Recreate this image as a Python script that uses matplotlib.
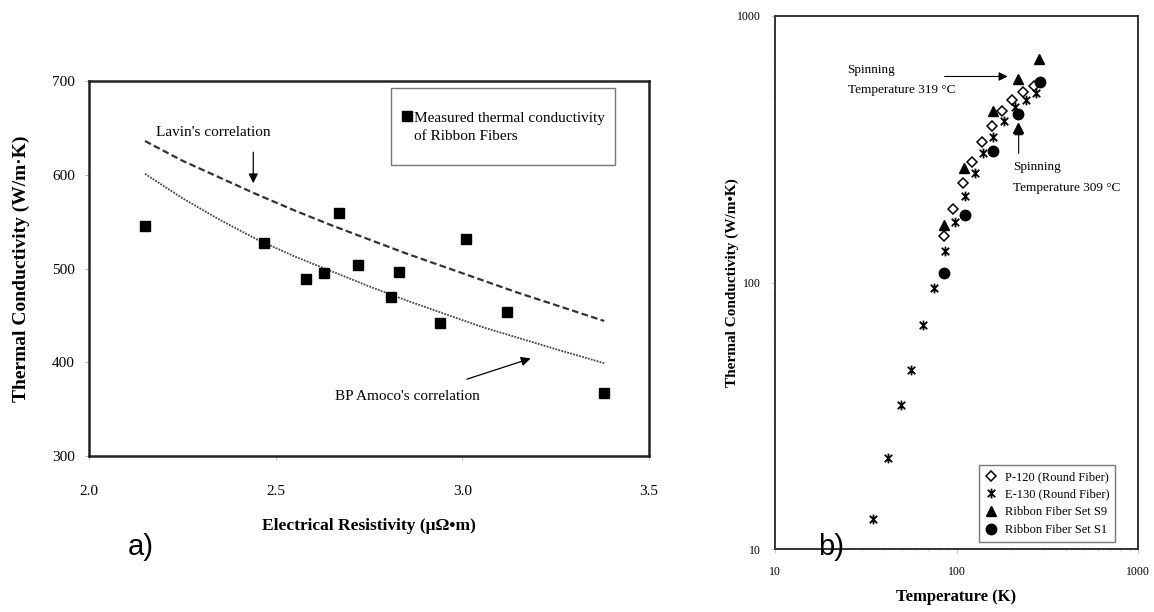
import matplotlib.pyplot as plt
from matplotlib.path import Path
from matplotlib.lines import Line2D
from matplotlib.patches import Rectangle

plt.rcParams['font.family'] = ['Liberation Serif', 'DejaVu Serif']

# ---- panel a) data ----
rho = [2.15, 2.47, 2.58, 2.63, 2.67, 2.72, 2.81, 2.83, 2.94, 3.01, 3.12, 3.38]
k_meas = [545, 527, 489, 495, 559, 504, 470, 496, 442, 532, 454, 367]

curve_rho = [2.15, 2.25, 2.35, 2.45, 2.55, 2.65, 2.75, 2.85, 2.95, 3.05, 3.15, 3.25, 3.38]
k_lavin = [636, 615, 597, 579, 562, 546, 531, 516, 502, 488, 474, 461, 444]
k_bp = [601, 575, 552, 531, 513, 497, 481, 466, 452, 438, 426, 414, 399]

# ---- panel b) data ----
T_p120 = [85.5, 95.9, 109, 122, 139, 156, 179, 203, 233, 268]
k_p120 = [149, 188, 236, 284, 336, 387, 440, 482, 517, 545]

T_e130 = [34.5, 42.1, 49.2, 55.9, 65.0, 75.0, 86.9, 97.9, 111, 126, 140, 159, 182, 210, 241, 274]
k_e130 = [13.0, 21.9, 34.7, 47.0, 69.3, 95.2, 131, 168, 211, 258, 305, 353, 402, 455, 482, 512]

T_s9 = [85.1, 110, 159, 218, 218, 285]
k_s9 = [164, 268, 440, 582, 380, 690]

T_s1 = [85.5, 111, 159, 218, 288]
k_s1 = [109, 179, 311, 430, 563]

# asterisk-like marker: X with a vertical bar
star = Path([(-1, -1), (1, 1), (-1, 1), (1, -1), (0, -1.3), (0, 1.3)],
            [Path.MOVETO, Path.LINETO, Path.MOVETO, Path.LINETO, Path.MOVETO, Path.LINETO])

W, H = 1154, 612
fig = plt.figure(figsize=(W / 100, H / 100), dpi=100)

def box(l, t, r, b):
    return [l / W, 1 - b / H, (r - l) / W, (b - t) / H]

# ================= a) =================
ax = fig.add_axes(box(89, 81, 649, 456))
ax.plot(curve_rho, k_lavin, color='#333333', lw=1.6, ls=(0, (3, 1.5)))
ax.plot(curve_rho, k_bp, color='#444444', lw=1.3, ls=(0, (1, 0.7)))
ax.plot(rho, k_meas, 's', color='black', ms=6.5, ls='none')

ax.set_xlim(2.0, 3.5)
ax.set_ylim(300, 700)
ax.set_xticks([2.0, 2.5, 3.0, 3.5])
ax.set_xticklabels(['2.0', '2.5', '3.0', '3.5'])
ax.set_yticks([300, 400, 500, 600, 700])
ax.tick_params(axis='both', labelsize=11, length=3, width=0.6, color='#aaaaaa')
ax.tick_params(axis='x', pad=18)
ax.tick_params(axis='y', pad=7)
for s in ax.spines.values():
    s.set_linewidth(1.8)
    s.set_color('#222222')

ax.set_ylabel('Thermal Conductivity (W/m·K)', fontsize=14, fontweight='bold', labelpad=16)
ax.set_xlabel('Electrical Resistivity (μΩ•m)', fontsize=12.5, fontweight='bold', labelpad=14)

ax.text(2.18, 645, "Lavin's correlation", fontsize=11, va='center', ha='left')
ax.annotate('', xy=(2.44, 588), xytext=(2.44, 627),
            arrowprops=dict(arrowstyle='-|>', color='black', lw=0.9, mutation_scale=14))
ax.text(2.66, 364, "BP Amoco's correlation", fontsize=11, va='center', ha='left')
ax.annotate('', xy=(3.19, 405), xytext=(3.005, 381),
            arrowprops=dict(arrowstyle='-|>', color='black', lw=0.9, mutation_scale=14))

# legend: separate frame + frameless legend inside it
ax.add_patch(Rectangle((0.539, 0.776), 0.400, 0.205, transform=ax.transAxes,
                       facecolor='white', edgecolor='#777777', lw=1.0, zorder=4))
h1 = Line2D([], [], marker='s', color='black', ms=6.5, ls='none')
h2 = Line2D([], [], ls='none')
leg = ax.legend([h1, h2], ['Measured thermal conductivity', 'of Ribbon Fibers'],
                loc='center', bbox_to_anchor=(0.740, 0.877), fontsize=11,
                frameon=False, handlelength=0.6, handletextpad=0.15,
                labelspacing=0.3, borderpad=0, borderaxespad=0)
leg.set_zorder(5)

fig.text(128 / W, 1 - 555 / H, 'a)', fontsize=21, family='Liberation Sans', va='baseline')

# ================= b) =================
bx = fig.add_axes(box(775, 16, 1138, 549))
bx.plot(T_p120, k_p120, 'D', mfc='white', mec='black', mew=1.1, ms=5, ls='none',
        label='P-120 (Round Fiber)')
bx.plot(T_e130, k_e130, marker=star, color='black', mew=1.3, ms=7, ls='none',
        label='E-130 (Round Fiber)')
bx.plot(T_s9, k_s9, '^', color='black', ms=7.5, ls='none', label='Ribbon Fiber Set S9')
bx.plot(T_s1, k_s1, 'o', color='black', ms=7.5, ls='none', label='Ribbon Fiber Set S1')

bx.set_xscale('log')
bx.set_yscale('log')
bx.set_xlim(10, 1000)
bx.set_ylim(10, 1000)
bx.set_xticks([10, 100, 1000])
bx.set_xticklabels(['10', '100', '1000'])
bx.set_yticks([10, 100, 1000])
bx.set_yticklabels(['10', '100', '1000'])
bx.tick_params(axis='both', which='major', labelsize=8.5, length=3, width=0.6, color='#bbbbbb')
bx.tick_params(axis='both', which='minor', length=2, width=0.5, color='#dddddd')
bx.tick_params(axis='x', which='both', pad=9)
bx.tick_params(axis='y', which='both', pad=7)
for s in bx.spines.values():
    s.set_linewidth(1.4)
    s.set_color('#333333')

bx.set_ylabel('Thermal Conductivity (W/m•K)', fontsize=11, fontweight='bold', labelpad=-1)
bx.set_xlabel('Temperature (K)', fontsize=12, fontweight='bold', labelpad=8)

bx.text(25.1, 627, 'Spinning', fontsize=9.5, va='center', ha='left')
bx.text(25.1, 526, 'Temperature 319 °C', fontsize=9.5, va='center', ha='left')
bx.annotate('', xy=(198, 593), xytext=(83, 593),
            arrowprops=dict(arrowstyle='-|>', color='black', lw=0.8, mutation_scale=13))
bx.text(205, 272, 'Spinning', fontsize=9.5, va='center', ha='left')
bx.text(205, 226, 'Temperature 309 °C', fontsize=9.5, va='center', ha='left')
bx.annotate('', xy=(220, 395), xytext=(220, 298),
            arrowprops=dict(arrowstyle='-|>', color='black', lw=0.8, mutation_scale=13))

leg2 = bx.legend(loc='lower right', bbox_to_anchor=(0.937, 0.014), fontsize=9,
                 fancybox=False, framealpha=1, edgecolor='#777777',
                 handlelength=1.0, handletextpad=0.6, labelspacing=0.45,
                 borderpad=0.45, borderaxespad=0)
leg2.get_frame().set_linewidth(1.0)

fig.text(818 / W, 1 - 555 / H, 'b)', fontsize=21, family='Liberation Sans', va='baseline')

fig.savefig('out.png', dpi=100)
